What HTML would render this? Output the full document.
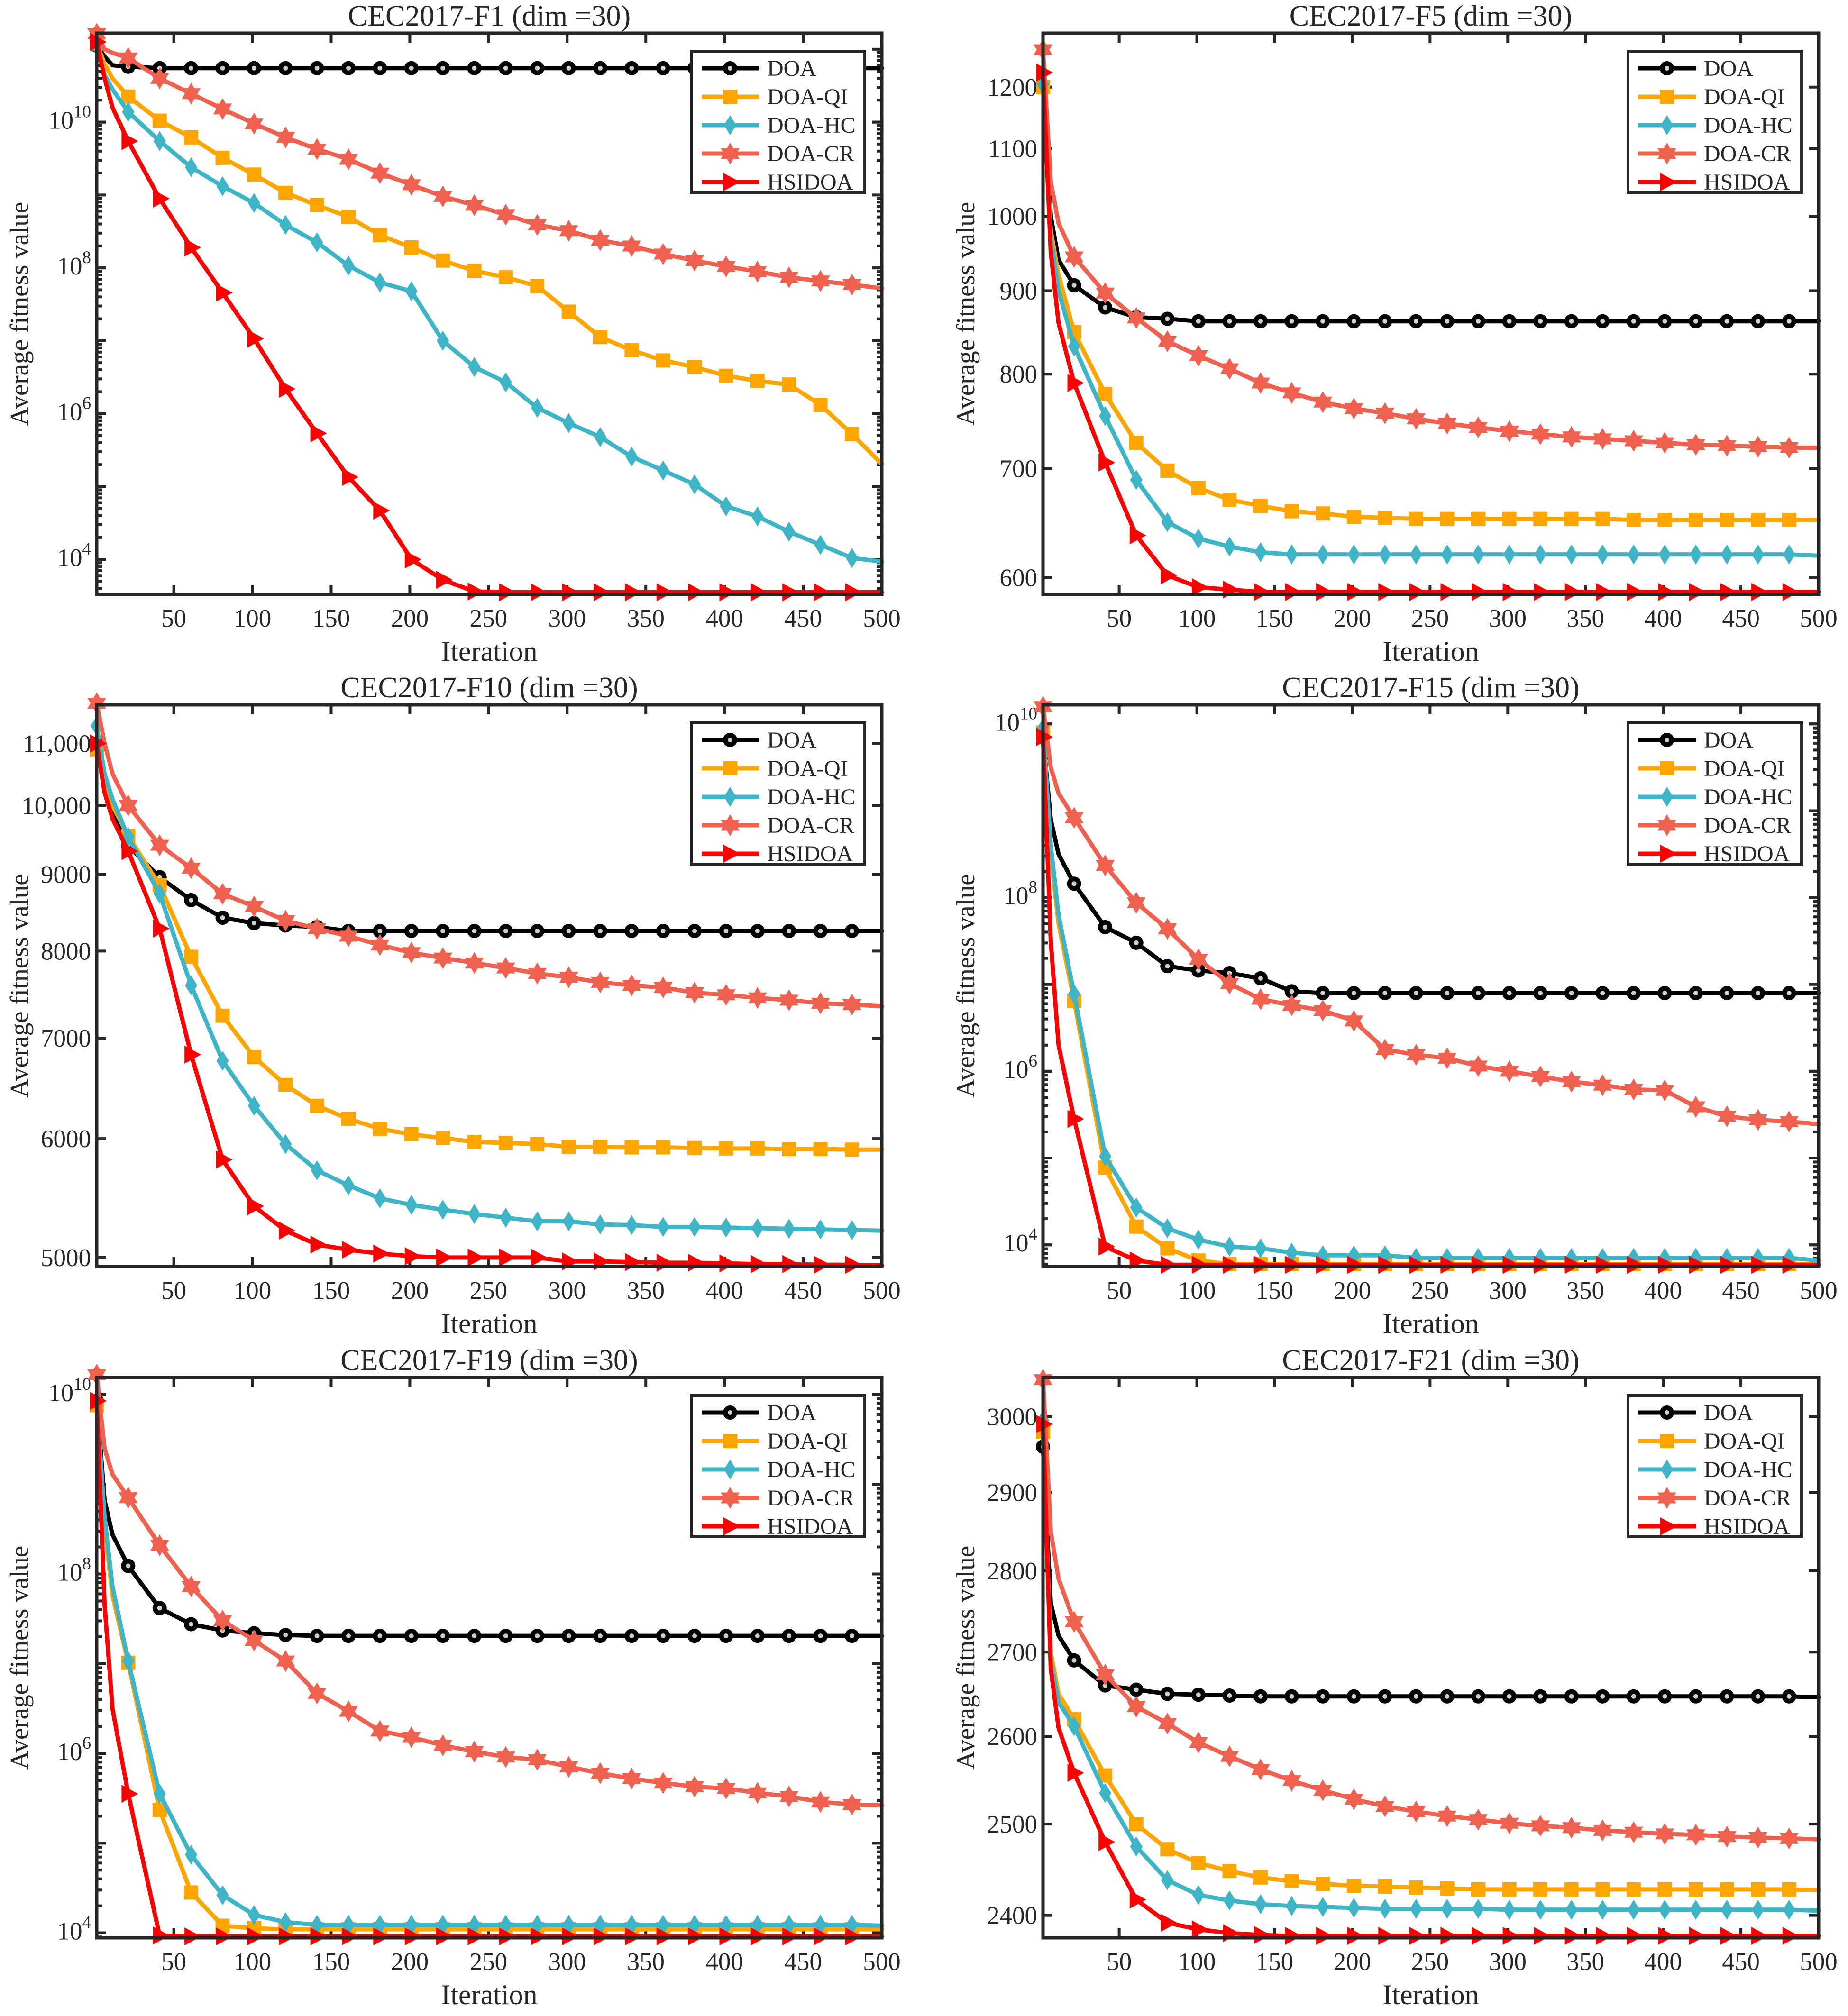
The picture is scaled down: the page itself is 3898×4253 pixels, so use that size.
<!DOCTYPE html>
<html>
<head>
<meta charset="utf-8">
<style>
html,body{margin:0;padding:0;background:#fff;}
svg{display:block;}
text{font-family:"Liberation Serif",serif;fill:#262626;}
</style>
</head>
<body>
<svg id="fig" xmlns="http://www.w3.org/2000/svg" width="3898" height="4253" viewBox="0 0 3898 4253">
<rect x="0" y="0" width="3898" height="4253" fill="#ffffff"/>
</svg>
<script>
// ---- shared data ----
const iters = [1,6,11,21,41,61,81,101,121,141,161,181,201,221,241,261,281,301,321,341,361,381,401,421,441,461,481,500];
const seriesNames = ["DOA","DOA-QI","DOA-HC","DOA-CR","HSIDOA"];

// F1 (log10 of fitness)
const f1DOA = [11.05,10.9,10.78,10.76,10.74,10.74,10.74,10.74,10.74,10.74,10.74,10.74,10.74,10.74,10.74,10.74,10.74,10.74,10.74,10.74,10.74,10.74,10.74,10.74,10.74,10.74,10.74,10.74];
const f1QI = [11.08,10.8,10.6,10.35,10.02,9.79,9.51,9.28,9.03,8.86,8.70,8.45,8.28,8.1,7.96,7.87,7.75,7.40,7.05,6.87,6.73,6.64,6.52,6.45,6.40,6.12,5.72,5.31];
const f1HC = [11.05,10.65,10.45,10.14,9.74,9.38,9.12,8.89,8.59,8.35,8.03,7.80,7.68,7.0,6.64,6.43,6.08,5.87,5.68,5.41,5.22,5.03,4.73,4.59,4.38,4.20,4.02,3.97];
const f1CR = [11.21,11.0,10.95,10.88,10.6,10.39,10.18,9.98,9.79,9.63,9.49,9.30,9.14,8.98,8.86,8.73,8.59,8.51,8.38,8.30,8.19,8.10,8.02,7.95,7.87,7.82,7.77,7.72];
const f1HS = [11.1,10.6,10.2,9.74,8.95,8.28,7.66,7.03,6.34,5.73,5.13,4.67,4.0,3.72,3.56,3.55,3.55,3.55,3.55,3.55,3.55,3.55,3.55,3.55,3.55,3.55,3.55,3.55];
const f1YTicks = [4,6,8,10];

// F5
const f5DOA = [1200,1000,940,907,879,867,865,862,862,862,862,862,862,862,862,862,862,862,862,862,862,862,862,862,862,862,862,862];
const f5QI = [1200,980,920,849,778,726,698,681,670,664,659,657,654,653,652,652,652,652,652,652,652,651,651,651,651,651,651,651];
const f5HC = [1205,970,900,832,754,689,649,634,627,622,620,620,620,620,620,620,620,620,620,620,620,620,620,620,620,620,620,619];
const f5CR = [1265,1050,990,944,897,866,838,821,806,790,779,769,762,757,751,746,742,738,735,732,730,728,726,724,723,722,721,721];
const f5HS = [1225,950,860,790,706,637,602,592,590,588,588,588,588,588,588,588,588,588,588,588,588,588,588,588,588,588,588,588];
const f5YTicks = [600,700,800,900,1000,1100,1200];
const f5YLabels = ["600","700","800","900","1000","1100","1200"];

// F10
const f10DOA = [11000,10300,9900,9400,8960,8650,8420,8350,8320,8300,8250,8250,8250,8250,8250,8250,8250,8250,8250,8250,8250,8250,8250,8250,8250,8250,8250,8250];
const f10QI = [10900,10400,10000,9545,8850,7930,7245,6800,6515,6310,6185,6090,6040,6005,5970,5960,5950,5925,5925,5920,5920,5915,5910,5910,5905,5905,5900,5900];
const f10HC = [11300,10500,10100,9530,8735,7590,6760,6310,5950,5715,5585,5475,5420,5380,5345,5315,5285,5285,5260,5255,5240,5240,5235,5230,5225,5220,5215,5210];
const f10CR = [11700,11000,10500,10000,9410,9085,8735,8565,8380,8280,8185,8075,7980,7915,7855,7795,7730,7685,7625,7590,7565,7505,7480,7445,7420,7385,7370,7350];
const f10HS = [11000,10200,9800,9325,8280,6825,5810,5410,5210,5100,5060,5030,5010,5000,5000,5000,5000,4970,4970,4965,4960,4960,4955,4950,4950,4945,4945,4940];
const f10YTicks = [5000,6000,7000,8000,9000,10000,11000];
const f10YLabels = ["5000","6000","7000","8000","9000","10,000","11,000"];

// F15 (log10)
const f15DOA = [9.85,8.9,8.5,8.16,7.66,7.48,7.21,7.16,7.13,7.07,6.92,6.90,6.90,6.90,6.90,6.90,6.90,6.90,6.90,6.90,6.90,6.90,6.90,6.90,6.90,6.90,6.90,6.90];
const f15QI = [9.9,8.5,7.7,6.81,4.89,4.21,3.96,3.82,3.78,3.78,3.78,3.78,3.78,3.78,3.78,3.78,3.78,3.78,3.78,3.78,3.78,3.78,3.78,3.78,3.78,3.78,3.78,3.78];
const f15HC = [9.95,8.6,7.8,6.89,5.02,4.43,4.19,4.06,3.98,3.96,3.91,3.88,3.88,3.88,3.85,3.85,3.85,3.85,3.85,3.85,3.85,3.85,3.85,3.85,3.85,3.85,3.85,3.82];
const f15CR = [10.2,9.5,9.2,8.92,8.37,7.94,7.64,7.29,7.01,6.83,6.76,6.70,6.58,6.25,6.19,6.15,6.06,6.0,5.94,5.88,5.84,5.79,5.78,5.59,5.48,5.44,5.42,5.39];
const f15HS = [9.85,7.5,6.3,5.45,3.98,3.82,3.77,3.77,3.77,3.77,3.77,3.77,3.77,3.77,3.77,3.77,3.77,3.77,3.77,3.77,3.77,3.77,3.77,3.77,3.77,3.77,3.77,3.77];
const f15YTicks = [4,6,8,10];

// F19 (log10)
const f19DOA = [9.93,8.82,8.44,8.09,7.62,7.44,7.37,7.34,7.32,7.31,7.31,7.31,7.31,7.31,7.31,7.31,7.31,7.31,7.31,7.31,7.31,7.31,7.31,7.31,7.31,7.31,7.31,7.31];
const f19QI = [9.88,8.53,7.76,7.01,5.37,4.45,4.08,4.05,4.04,4.04,4.04,4.04,4.04,4.04,4.04,4.04,4.04,4.04,4.04,4.04,4.04,4.04,4.04,4.04,4.04,4.04,4.04,4.04];
const f19HC = [9.93,8.63,7.86,7.03,5.55,4.87,4.42,4.2,4.12,4.09,4.09,4.09,4.09,4.09,4.09,4.09,4.09,4.09,4.09,4.09,4.09,4.09,4.09,4.09,4.09,4.09,4.09,4.08];
const f19CR = [10.22,9.4,9.11,8.85,8.32,7.86,7.48,7.26,7.03,6.67,6.47,6.25,6.18,6.09,6.02,5.96,5.93,5.85,5.78,5.72,5.67,5.63,5.61,5.56,5.52,5.46,5.43,5.42];
const f19HS = [9.93,7.66,6.5,5.55,3.97,3.96,3.96,3.96,3.96,3.96,3.96,3.96,3.96,3.96,3.96,3.96,3.96,3.96,3.96,3.96,3.96,3.96,3.96,3.96,3.96,3.96,3.96,3.96];
const f19YTicks = [4,6,8,10];

// F21
const f21DOA = [2960,2760,2720,2690,2660,2655,2650,2649,2648,2647,2647,2647,2647,2647,2647,2647,2647,2647,2647,2647,2647,2647,2647,2647,2647,2647,2647,2646];
const f21QI = [2980,2700,2650,2620,2555,2500,2472,2457,2448,2441,2437,2434,2432,2431,2430,2429,2428,2428,2428,2428,2428,2428,2428,2428,2428,2428,2428,2427];
const f21HC = [2995,2690,2640,2612,2535,2475,2438,2422,2416,2412,2410,2409,2408,2407,2407,2407,2407,2406,2406,2406,2406,2406,2406,2406,2406,2406,2406,2405];
const f21CR = [3050,2850,2790,2737,2673,2635,2615,2593,2577,2562,2549,2538,2528,2520,2514,2509,2505,2501,2498,2496,2493,2491,2489,2488,2486,2485,2484,2483];
const f21HS = [2990,2680,2610,2558,2480,2417,2392,2385,2381,2379,2378,2378,2378,2378,2378,2378,2378,2378,2378,2378,2378,2378,2378,2378,2378,2378,2378,2378];
const f21YTicks = [2400,2500,2600,2700,2800,2900,3000];
const f21YLabels = ["2400","2500","2600","2700","2800","2900","3000"];

const xTicks = [50,100,150,200,250,300,350,400,450,500];

// ---- drawing ----
const NS = "http://www.w3.org/2000/svg";
const svg = document.getElementById("fig");
const COLORS = ["#000000","#FFA500","#3DB5C6","#F0604F","#FF0000"];
const MARKERS = ["circle","square","diamond","star","tri"];
const AX = "#262626";

function el(tag, attrs, parent){
  const e = document.createElementNS(NS, tag);
  for (const k in attrs) e.setAttribute(k, attrs[k]);
  (parent||svg).appendChild(e);
  return e;
}

function marker(g, type, cx, cy, color){
  let m;
  if (type==="circle"){
    m = el("g",{},g);
    el("circle",{cx:cx,cy:cy,r:15,fill:"#000"},m);
    el("circle",{cx:cx,cy:cy,r:5,fill:"#cfcfcf"},m);
  } else if (type==="square"){
    m = el("rect",{x:cx-15,y:cy-15,width:30,height:30,fill:color},g);
  } else if (type==="diamond"){
    m = el("polygon",{points:`${cx},${cy-21} ${cx+13},${cy} ${cx},${cy+21} ${cx-13},${cy}`,fill:color},g);
  } else if (type==="star"){
    const R=23; let p1=[],p2=[];
    for (let i=0;i<3;i++){
      const a1=(-90+120*i)*Math.PI/180, a2=(90+120*i)*Math.PI/180;
      p1.push((cx+R*Math.cos(a1)).toFixed(1)+","+(cy+R*Math.sin(a1)).toFixed(1));
      p2.push((cx+R*Math.cos(a2)).toFixed(1)+","+(cy+R*Math.sin(a2)).toFixed(1));
    }
    m = el("g",{},g);
    el("polygon",{points:p1.join(" "),fill:color},m);
    el("polygon",{points:p2.join(" "),fill:color},m);
  } else {
    m = el("polygon",{points:`${cx-14},${cy-19} ${cx+21},${cy} ${cx-14},${cy+19}`,fill:color},g);
  }
  
  
  return m;
}

function panel(cfg){
  const {x0,x1,y0,y1} = cfg;
  const g = el("g",{});
  
  
  const toE = v => cfg.isExp ? v : Math.log10(v);
  const eMin = toE(cfg.ymin), eMax = toE(cfg.ymax);
  const xs = it => x0 + (it-1)/499*(x1-x0);
  const ys = v => y1 - (toE(v)-eMin)/(eMax-eMin)*(y1-y0);

  // title
  const t = el("text",{x:(x0+x1)/2,y:y0-16,"font-size":62,"text-anchor":"middle"},g);
  t.textContent = cfg.title;
  
  

  // x ticks
  xTicks.forEach(v=>{
    const x = xs(v);
    el("line",{x1:x,x2:x,y1:y1,y2:y1-20,stroke:AX,"stroke-width":6},g);
    el("line",{x1:x,x2:x,y1:y0,y2:y0+20,stroke:AX,"stroke-width":6},g);
    const tl = el("text",{x:x,y:y1+68,"font-size":53,"text-anchor":"middle"},g);
    tl.textContent = v;
    
    
  });
  // y ticks
  if (cfg.isExp){
    for (let d=Math.floor(eMin); d<=Math.ceil(eMax); d++){
      for (let k=1;k<10;k++){
        const e = d + Math.log10(k);
        if (e<eMin || e>eMax) continue;
        const y = ys(e), L = k===1?20:11;
        el("line",{x1:x0,x2:x0+L,y1:y,y2:y,stroke:AX,"stroke-width":6},g);
        el("line",{x1:x1,x2:x1-L,y1:y,y2:y,stroke:AX,"stroke-width":6},g);
      }
    }
  }
  cfg.yTicks.forEach((v,i)=>{
    const y = ys(v);
    el("line",{x1:x0,x2:x0+20,y1:y,y2:y,stroke:AX,"stroke-width":6},g);
    el("line",{x1:x1,x2:x1-20,y1:y,y2:y,stroke:AX,"stroke-width":6},g);
    const tl = el("text",{x:x0-12,y:y+(cfg.isExp?14:18),"font-size":53,"text-anchor":"end"},g);
    if (cfg.isExp){
      const base = document.createElementNS(NS,"tspan");
      base.textContent = "10";
      tl.appendChild(base);
      const sup = document.createElementNS(NS,"tspan");
      sup.setAttribute("dy","-24");
      sup.setAttribute("font-size","37");
      sup.textContent = String(v);
      tl.appendChild(sup);
    } else {
      tl.textContent = cfg.yLabels[i];
    }
    
    
  });

  // axis labels
  const xl = el("text",{x:(x0+x1)/2,y:y1+140,"font-size":60,"text-anchor":"middle"},g);
  xl.textContent = "Iteration";
  
  
  const cyl = (y0+y1)/2, cxl = x0-145;
  const yl = el("text",{x:cxl,y:cyl,"font-size":55,"text-anchor":"middle",transform:`rotate(-90 ${cxl} ${cyl})`},g);
  yl.textContent = "Average fitness value";
  
  

  // series
  cfg.series.forEach((vals,si)=>{
    const sg = el("g",{},g);
    
    
    const pts = vals.map((v,i)=>xs(iters[i]).toFixed(1)+","+ys(v).toFixed(1)).join(" ");
    const pl = el("polyline",{points:pts,fill:"none",stroke:COLORS[si],"stroke-width":9,"stroke-linejoin":"round","stroke-linecap":"round"},sg);
    
    
    vals.forEach((v,i)=>{
      if ((iters[i]-1)%20===0) marker(sg, MARKERS[si], xs(iters[i]), ys(v), COLORS[si]);
    });
  });

  // axes box
  const box = el("rect",{x:x0,y:y0,width:x1-x0,height:y1-y0,fill:"none",stroke:AX,"stroke-width":7},g);
  
  

  // legend
  const lw=366, lh=298, lx=x1-36-lw, ly=y0+38;
  const lg = el("g",{},g);
  
  
  el("rect",{x:lx,y:ly,width:lw,height:lh,fill:"#fff",stroke:AX,"stroke-width":6},lg);
  seriesNames.forEach((n,i)=>{
    const cy = ly+36+i*60;
    const eg = el("g",{},lg);
    
    
    el("line",{x1:lx+22,x2:lx+143,y1:cy,y2:cy,stroke:COLORS[i],"stroke-width":9},eg);
    marker(eg, MARKERS[i], lx+82, cy, COLORS[i]);
    const tx = el("text",{x:lx+160,y:cy+16,"font-size":48},eg);
    tx.textContent = n;
  });
}

const L0=204, L1=1860, R0=2200, R1=3836;
const ROWS=[[70,1254],[1487,2672],[2906,4088]];

panel({name:"chart-f1",title:"CEC2017-F1 (dim =30)",x0:L0,x1:L1,y0:ROWS[0][0],y1:ROWS[0][1],isExp:true,ymin:3.52,ymax:11.22,yTicks:f1YTicks,series:[f1DOA,f1QI,f1HC,f1CR,f1HS]});
panel({name:"chart-f5",title:"CEC2017-F5 (dim =30)",x0:R0,x1:R1,y0:ROWS[0][0],y1:ROWS[0][1],isExp:false,ymin:586,ymax:1295,yTicks:f5YTicks,yLabels:f5YLabels,series:[f5DOA,f5QI,f5HC,f5CR,f5HS]});
panel({name:"chart-f10",title:"CEC2017-F10 (dim =30)",x0:L0,x1:L1,y0:ROWS[1][0],y1:ROWS[1][1],isExp:false,ymin:4931,ymax:11670,yTicks:f10YTicks,yLabels:f10YLabels,series:[f10DOA,f10QI,f10HC,f10CR,f10HS]});
panel({name:"chart-f15",title:"CEC2017-F15 (dim =30)",x0:R0,x1:R1,y0:ROWS[1][0],y1:ROWS[1][1],isExp:true,ymin:3.75,ymax:10.22,yTicks:f15YTicks,series:[f15DOA,f15QI,f15HC,f15CR,f15HS]});
panel({name:"chart-f19",title:"CEC2017-F19 (dim =30)",x0:L0,x1:L1,y0:ROWS[2][0],y1:ROWS[2][1],isExp:true,ymin:3.945,ymax:10.19,yTicks:f19YTicks,series:[f19DOA,f19QI,f19HC,f19CR,f19HS]});
panel({name:"chart-f21",title:"CEC2017-F21 (dim =30)",x0:R0,x1:R1,y0:ROWS[2][0],y1:ROWS[2][1],isExp:false,ymin:2376,ymax:3053,yTicks:f21YTicks,yLabels:f21YLabels,series:[f21DOA,f21QI,f21HC,f21CR,f21HS]});
</script>
</body>
</html>
